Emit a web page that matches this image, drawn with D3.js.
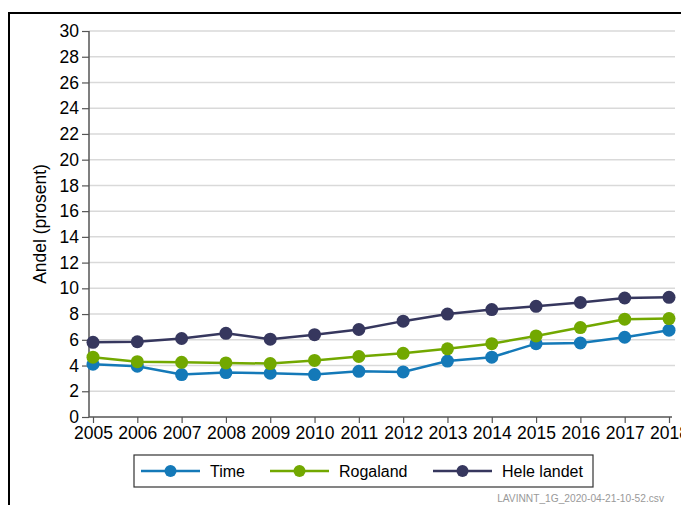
<!DOCTYPE html>
<html>
<head>
<meta charset="utf-8">
<script src="https://cdn.jsdelivr.net/npm/d3@7"></script>
<style>
  body { margin: 0; background: #fff; }
  svg { display: block; font-family: "Liberation Sans", Arial, sans-serif; }
</style>
</head>
<body>
<svg id="chart" width="681" height="505"></svg>
<script>
const years = [2005, 2006, 2007, 2008, 2009, 2010, 2011, 2012, 2013, 2014, 2015, 2016, 2017, 2018];
const time = [4.1, 3.95, 3.3, 3.45, 3.4, 3.3, 3.55, 3.5, 4.35, 4.65, 5.7, 5.75, 6.2, 6.75];
const rogaland = [4.65, 4.3, 4.25, 4.2, 4.15, 4.4, 4.7, 4.95, 5.3, 5.7, 6.3, 6.95, 7.6, 7.65];
const heleLandet = [5.8, 5.85, 6.1, 6.5, 6.05, 6.4, 6.8, 7.45, 8.0, 8.35, 8.6, 8.9, 9.25, 9.3];
const yTicks = d3.range(0, 31, 2);

const series = [
  { name: "Time", values: time, color: "#1479b8" },
  { name: "Rogaland", values: rogaland, color: "#72a800" },
  { name: "Hele landet", values: heleLandet, color: "#36375e" }
];

const svg = d3.select("#chart");

// frame around the whole figure (runs off the right and bottom)
svg.append("rect")
  .attr("x", 9).attr("y", 13)
  .attr("width", 700).attr("height", 520)
  .attr("fill", "none").attr("stroke", "#000").attr("stroke-width", 2);

const x = d3.scaleLinear().domain([2005, 2018]).range([93, 669]);
const y = d3.scaleLinear().domain([0, 30]).range([417, 31]);

// gridlines
svg.append("g")
  .selectAll("line")
  .data(yTicks.filter(d => d > 0))
  .join("line")
  .attr("x1", 89).attr("x2", 675)
  .attr("y1", d => y(d)).attr("y2", d => y(d))
  .attr("stroke", "#d9d9d9").attr("stroke-width", 1.5);

const yAxis = d3.axisLeft(y).tickValues(yTicks).tickSize(7).tickPadding(3).tickSizeOuter(0);
svg.append("g")
  .attr("transform", "translate(89,0)")
  .call(yAxis)
  .call(g => g.select(".domain").attr("stroke", "#555").attr("stroke-width", 1.5).attr("d", `M0,${y(30)}V${y(0)}`))
  .call(g => g.selectAll(".tick line").attr("stroke", "#555").attr("stroke-width", 1.2))
  .call(g => g.selectAll("text").attr("font-size", 17.5).attr("fill", "#000").attr("font-family", "Liberation Sans"));

const xAxis = d3.axisBottom(x).tickValues(years).tickFormat(d3.format("d")).tickSize(6).tickPadding(4).tickSizeOuter(0);
svg.append("g")
  .attr("transform", `translate(0,${y(0)})`)
  .call(xAxis)
  .call(g => g.select(".domain").attr("stroke", "#555").attr("stroke-width", 1.5).attr("d", "M89,0H672"))
  .call(g => g.selectAll(".tick line").attr("stroke", "#555").attr("stroke-width", 1.2))
  .call(g => g.selectAll("text").attr("font-size", 17.5).attr("fill", "#000").attr("font-family", "Liberation Sans"));

svg.append("text")
  .attr("transform", `translate(46,${(y(0) + y(30)) / 2}) rotate(-90)`)
  .attr("text-anchor", "middle")
  .attr("font-size", 17.5)
  .text("Andel (prosent)");

const line = d3.line().x((d, i) => x(years[i])).y(d => y(d));

series.forEach(s => {
  const g = svg.append("g");
  g.append("path")
    .datum(s.values)
    .attr("d", line)
    .attr("fill", "none")
    .attr("stroke", s.color)
    .attr("stroke-width", 2.5);
  g.selectAll("circle")
    .data(s.values)
    .join("circle")
    .attr("cx", (d, i) => x(years[i]))
    .attr("cy", d => y(d))
    .attr("r", 6.5)
    .attr("fill", s.color);
});

// legend
const legend = svg.append("g");
legend.append("rect")
  .attr("x", 134).attr("y", 455)
  .attr("width", 459).attr("height", 32)
  .attr("fill", "#fff").attr("stroke", "#333").attr("stroke-width", 1.2);

const legendX = [141, 270, 433];
series.forEach((s, i) => {
  const lx = legendX[i];
  legend.append("line")
    .attr("x1", lx).attr("x2", lx + 59)
    .attr("y1", 471).attr("y2", 471)
    .attr("stroke", s.color).attr("stroke-width", 2.5);
  legend.append("circle")
    .attr("cx", lx + 29.5).attr("cy", 471).attr("r", 6)
    .attr("fill", s.color);
  legend.append("text")
    .attr("x", lx + 69).attr("y", 477)
    .attr("font-size", 16)
    .text(s.name);
});

svg.append("text")
  .attr("x", 664).attr("y", 502)
  .attr("text-anchor", "end")
  .attr("font-size", 10.2)
  .attr("fill", "#999")
  .text("LAVINNT_1G_2020-04-21-10-52.csv");
</script>
</body>
</html>
